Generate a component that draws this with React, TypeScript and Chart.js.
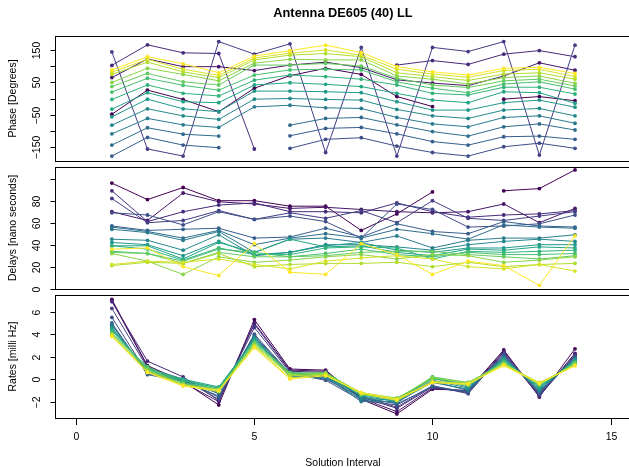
import React, { useEffect, useRef } from "react";
import { Chart, registerables } from "chart.js";

Chart.register(...registerables);

const chartTitle = "Antenna DE605 (40) LL";
const xTitle = "Solution Interval";
const intervals = [1, 2, 3, 4, 5, 6, 7, 8, 9, 10, 11, 12, 13, 14];
const xTicks = [0, 5, 10, 15];

const seriesColors = [
  "#440154", "#461668", "#472A79", "#433D83", "#3D4E89", "#365E8D",
  "#2F6D8D", "#297B8E", "#24898C", "#21978A", "#22A585", "#31B37B",
  "#46C06F", "#65CB5E", "#89D448", "#B0DD2E", "#D6E226", "#FDE725",
];

type V = number | null;

const phaseDegrees: V[][] = [
  [-49, 26, -3, -41, 32, 71, 94, 75, 6, -25, null, -2, 6, -7],
  [65, 123, 99, 99, 87, 104, 113, 96, 58, 48, 40, 70, 111, 88],
  [103, 167, 142, 140, -157, null, null, null, 104, 118, 106, 138, 149, 130],
  [145, -157, -179, 177, 138, 170, -168, 159, -179, 159, 146, 177, -176, 166],
  [null, null, null, null, null, -155, -127, -122, -148, -168, -179, -150, -139, -155],
  [-179, -121, -145, -153, null, -116, -93, -90, -110, -134, -145, -119, -117, -127],
  [-145, -91, -111, -117, null, -83, -62, -59, -82, -103, -117, -88, -79, -98],
  [-110, -62, -82, -90, -26, -21, -29, -31, -59, -79, -88, -59, -54, -77],
  [-83, -32, -54, -65, -2, 0, -3, -5, -34, -54, -62, -36, -31, -54],
  [-57, -2, -32, -41, 23, 23, 21, 18, -10, -36, -36, -13, -5, -27],
  [-33, 18, -10, -13, 42, 49, 44, 37, 16, -5, -13, 21, 18, -15],
  [-3, 42, 16, 8, 57, 73, 68, 60, 42, 16, 11, 35, 35, 14],
  [20, 63, 41, 26, 73, 89, 91, 89, 52, 32, 18, 45, 52, 29],
  [37, 78, 52, 42, 104, 104, 109, 101, 63, 42, 34, 55, 60, 39],
  [50, 94, 75, 55, 110, 122, 120, 120, 70, 60, 45, 65, 70, 47],
  [75, 113, 83, 65, 120, 135, 140, 130, 80, 68, 56, 76, 80, 60],
  [82, 122, 91, 72, 126, 141, 151, 135, 91, 76, 66, 87, 91, 68],
  [89, 130, 108, 80, 132, 149, 166, 143, 99, 83, 73, 94, 97, 78],
];

const delayNs: V[][] = [
  [96, 81, 92, 80, 80, 75, 75, 53, 68, 88, null, 89, 91, 108],
  [70, 62, 87, 79, 77, 73, 74, 72, 70, 69, 70, 77, 60, 73],
  [89, 61, 70, 76, 78, 70, 70, 69, 78, 70, 65, 67, 68, 71],
  [82, 60, 62, 71, 63, 69, 64, 71, 60, 80, 64, 62, 66, 70],
  [69, 67, 58, 70, 63, 66, 61, 46, 77, 72, 56, 57, 59, 67],
  [57, 53, 54, 55, 46, 47, 55, 47, 59, 52, 50, 61, 57, 56],
  [56, 52, 46, 53, 40, 46, 50, 46, 54, 50, 45, 58, 56, 55],
  [54, 51, 44, 52, 33, 45, 46, 42, 48, 37, 44, 46, 46, 49],
  [45, 44, 35, 49, 30, 33, 40, 40, 38, 35, 40, 43, 45, 43],
  [42, 40, 30, 43, 31, 33, 39, 42, 35, 33, 37, 37, 40, 40],
  [39, 39, 27, 42, 33, 45, 38, 39, 33, 30, 36, 35, 38, 37],
  [39, 36, 26, 37, 31, 31, 37, 38, 37, 27, 34, 33, 34, 35],
  [34, 32, 25, 36, 33, 29, 32, 36, 31, 29, 33, 31, 31, 32],
  [33, 32, 23, 33, 29, 29, 30, 33, 34, 34, 31, 29, 27, 30],
  [32, 25, 13, 29, 24, 26, 29, 31, 27, 31, 30, 24, 26, 29],
  [21, 24, 23, 32, 20, 22, 23, 23, 24, 20, 24, 20, 22, 23],
  [22, 25, 24, 27, 22, 18, 25, 28, 30, 27, 20, 18, 22, 16],
  [36, 37, 20, 12, 41, 15, 13, 41, 31, 13, 25, 21, 3, 48],
];

const rateMilliHz: V[][] = [
  [7.1, 1.2, -0.2, -2.3, 5.3, 0.9, 0.8, -1.8, -3.1, -0.9, -1.0, 2.6, -1.6, 2.7],
  [7.0, 1.1, -0.3, -2.0, 5.0, 0.8, 0.7, -1.7, -2.9, -0.8, -1.1, 2.5, -1.5, 2.3],
  [6.9, 1.6, 0.2, -1.9, 4.9, 0.7, 0.6, -1.6, -2.6, -0.7, -1.2, 2.4, -1.4, 2.2],
  [6.3, 1.0, 0.0, -1.8, 4.6, 0.6, 0.2, -1.5, -2.5, -0.6, -1.3, 2.3, -1.5, 2.1],
  [5.5, 0.5, -0.1, -1.6, 4.0, 0.5, -0.1, -1.9, -2.3, -0.6, -1.2, 2.2, -1.3, 2.0],
  [5.0, 0.4, -0.2, -1.5, 3.9, 0.4, 0.0, -1.6, -2.2, -0.7, -1.1, 2.1, -1.2, 1.9],
  [4.9, 0.5, -0.1, -1.3, 3.8, 0.3, 0.1, -1.8, -2.1, -0.2, -1.0, 2.0, -1.1, 1.9],
  [4.8, 0.6, -0.2, -1.2, 3.7, 0.3, 0.2, -2.0, -2.0, -0.3, -0.9, 1.9, -1.0, 1.8],
  [4.6, 0.7, -0.1, -1.0, 3.7, 0.2, 0.2, -1.7, -1.9, -0.1, -0.8, 1.8, -0.9, 1.7],
  [4.5, 0.8, -0.1, -0.8, 3.6, 0.4, 0.3, -1.5, -2.0, 0.1, -0.7, 1.8, -0.8, 1.7],
  [4.4, 0.9, 0.0, -0.7, 3.5, 0.4, 0.3, -1.4, -1.9, 0.2, -0.6, 1.7, -0.7, 1.6],
  [4.3, 1.0, -0.1, -0.8, 3.4, 0.5, 0.4, -1.3, -1.8, 0.1, -0.5, 1.6, -0.6, 1.5],
  [4.1, 1.1, -0.3, -0.9, 3.3, 0.6, 0.5, -1.4, -1.7, 0.0, -0.4, 1.5, -0.5, 1.5],
  [4.1, 0.9, -0.4, -1.0, 3.2, 0.5, 0.6, -1.3, -1.8, 0.2, -0.3, 1.4, -0.5, 1.4],
  [4.0, 0.8, -0.5, -0.9, 3.1, 0.4, 0.5, -1.2, -1.7, 0.1, -0.3, 1.4, -0.4, 1.3],
  [3.9, 0.7, -0.5, -1.0, 3.0, 0.3, 0.4, -1.2, -1.8, -0.2, -0.4, 1.3, -0.4, 1.3],
  [3.9, 0.6, -0.6, -1.1, 2.9, 0.1, 0.4, -1.3, -1.9, -0.3, -0.5, 1.3, -0.3, 1.2],
  [3.8, 0.6, -0.6, -1.0, 2.8, 0.0, 0.3, -1.2, -1.8, -0.3, -0.4, 1.2, -0.4, 1.2],
];

const phaseTicks = [-150, -100, -50, 0, 50, 100, 150];
const phaseTickLabels = ["\u2212150", "", "\u221250", "", "50", "", "150"];
const delayTicks = [0, 20, 40, 60, 80, 100];
const delayTickLabels = ["0", "20", "40", "60", "80", ""];
const rateTicks = [-2, 0, 2, 4, 6];
const rateTickLabels = ["\u22122", "0", "2", "4", "6"];

const FONT = '"Liberation Sans", Arial, Helvetica, sans-serif';
const CANVAS_W = 640;

interface PanelSpec {
  values: V[][];
  yMin: number;
  yMax: number;
  ticks: number[];
  tickLabels: string[];
  yTitle: string;
  padTop: number;
  padBottom: number;
  height: number;
  showTitle?: boolean;
  showXAxis?: boolean;
}

function makeConfig(p: PanelSpec): any {
  const datasets = p.values
    .map((row, si) => ({
      label: "s" + si,
      data: row.map((v, i) => ({ x: intervals[i], y: v })),
      borderColor: seriesColors[si],
      backgroundColor: seriesColors[si],
      pointBackgroundColor: seriesColors[si],
      pointBorderWidth: 0,
      pointRadius: 1.9,
      borderWidth: 1,
      tension: 0,
      spanGaps: false,
      order: p.values.length - si,
    }));

  const panelPlugin = {
    id: "panelDecor",
    afterDraw(chart: any) {
      const ctx = chart.ctx as CanvasRenderingContext2D;
      const { left, right, top, bottom } = chart.chartArea;
      const ys = chart.scales.y;
      const xs = chart.scales.x;
      ctx.save();
      ctx.strokeStyle = "#000";
      ctx.lineWidth = 1;
      const L = Math.round(left) + 0.5;
      const T = Math.round(top) + 0.5;
      const B = Math.round(bottom) + 0.5;
      const R = Math.round(right) + 0.5;
      ctx.strokeRect(L, T, R - L, B - T);
      ctx.fillStyle = "#000";
      ctx.font = `10.5px ${FONT}`;
      p.ticks.forEach((t, i) => {
        const py = Math.round(ys.getPixelForValue(t)) + 0.5;
        ctx.beginPath();
        ctx.moveTo(L - 5, py);
        ctx.lineTo(L, py);
        ctx.stroke();
        const lab = p.tickLabels[i];
        if (lab) {
          ctx.save();
          ctx.translate(37, py);
          ctx.rotate(-Math.PI / 2);
          ctx.textAlign = "center";
          ctx.textBaseline = "middle";
          ctx.fillText(lab, 0, 0);
          ctx.restore();
        }
      });
      ctx.save();
      ctx.translate(13, (top + bottom) / 2);
      ctx.rotate(-Math.PI / 2);
      ctx.textAlign = "center";
      ctx.textBaseline = "middle";
      ctx.fillText(p.yTitle, 0, 0);
      ctx.restore();

      if (p.showTitle) {
        ctx.font = `bold 12.8px ${FONT}`;
        ctx.textAlign = "center";
        ctx.textBaseline = "middle";
        ctx.fillText(chartTitle, 343, 13);
      }
      if (p.showXAxis) {
        ctx.font = `10.5px ${FONT}`;
        ctx.textAlign = "center";
        ctx.textBaseline = "middle";
        const x0 = Math.round(xs.getPixelForValue(xTicks[0])) + 0.5;
        const x1 = Math.round(xs.getPixelForValue(xTicks[xTicks.length - 1])) + 0.5;
        ctx.beginPath();
        ctx.moveTo(x0, B);
        ctx.lineTo(x1, B);
        ctx.stroke();
        xTicks.forEach((t) => {
          const px = Math.round(xs.getPixelForValue(t)) + 0.5;
          ctx.beginPath();
          ctx.moveTo(px, B);
          ctx.lineTo(px, B + 6.5);
          ctx.stroke();
          ctx.fillText(String(t), px, bottom + 19);
        });
        ctx.fillText(xTitle, 343, bottom + 45);
      }
      ctx.restore();
    },
  };

  return {
    type: "line",
    data: { datasets },
    options: {
      animation: false,
      responsive: false,
      maintainAspectRatio: false,
      devicePixelRatio: 1,
      layout: {
        autoPadding: false,
        padding: { top: p.padTop, bottom: p.padBottom, left: 0, right: 8 },
      },
      plugins: {
        legend: { display: false },
        tooltip: { enabled: false },
        title: { display: false },
      },
      scales: {
        x: { type: "linear", min: -0.61, max: 15.6, display: false },
        y: {
          type: "linear",
          min: p.yMin,
          max: p.yMax,
          display: true,
          ticks: { display: false },
          grid: { display: false },
          border: { display: false },
          afterFit: (s: any) => {
            s.width = 54.5;
          },
        },
      },
    },
    plugins: [panelPlugin],
  };
}

const panels: PanelSpec[] = [
  {
    values: phaseDegrees,
    yMin: -194.4,
    yMax: 194.4,
    ticks: phaseTicks,
    tickLabels: phaseTickLabels,
    yTitle: "Phase [Degrees]",
    padTop: 36,
    padBottom: 2,
    height: 163,
    showTitle: true,
  },
  {
    values: delayNs,
    yMin: -0.55,
    yMax: 110.9,
    ticks: delayTicks,
    tickLabels: delayTickLabels,
    yTitle: "Delays [nano seconds]",
    padTop: 3.7,
    padBottom: 2.7,
    height: 129,
  },
  {
    values: rateMilliHz,
    yMin: -3.49,
    yMax: 7.52,
    ticks: rateTicks,
    tickLabels: rateTickLabels,
    yTitle: "Rates [milli Hz]",
    padTop: 2.7,
    padBottom: 48.7,
    height: 175,
    showXAxis: true,
  },
];

export default function App() {
  const r0 = useRef<HTMLCanvasElement>(null);
  const r1 = useRef<HTMLCanvasElement>(null);
  const r2 = useRef<HTMLCanvasElement>(null);

  useEffect(() => {
    const refs = [r0, r1, r2];
    const charts = panels.map((p, i) => new Chart(refs[i].current as HTMLCanvasElement, makeConfig(p)));
    return () => charts.forEach((c) => c.destroy());
  }, []);

  const tops = [0, 163, 292];
  const refs = [r0, r1, r2];
  return (
    <div
      style={{
        position: "fixed",
        left: 0,
        top: 0,
        width: 629,
        height: 467,
        overflow: "hidden",
        background: "#fff",
      }}
    >
      {panels.map((p, i) => (
        <canvas
          key={i}
          ref={refs[i]}
          width={CANVAS_W}
          height={p.height}
          style={{ position: "absolute", left: 0, top: tops[i], width: CANVAS_W, height: p.height }}
        />
      ))}
    </div>
  );
}
